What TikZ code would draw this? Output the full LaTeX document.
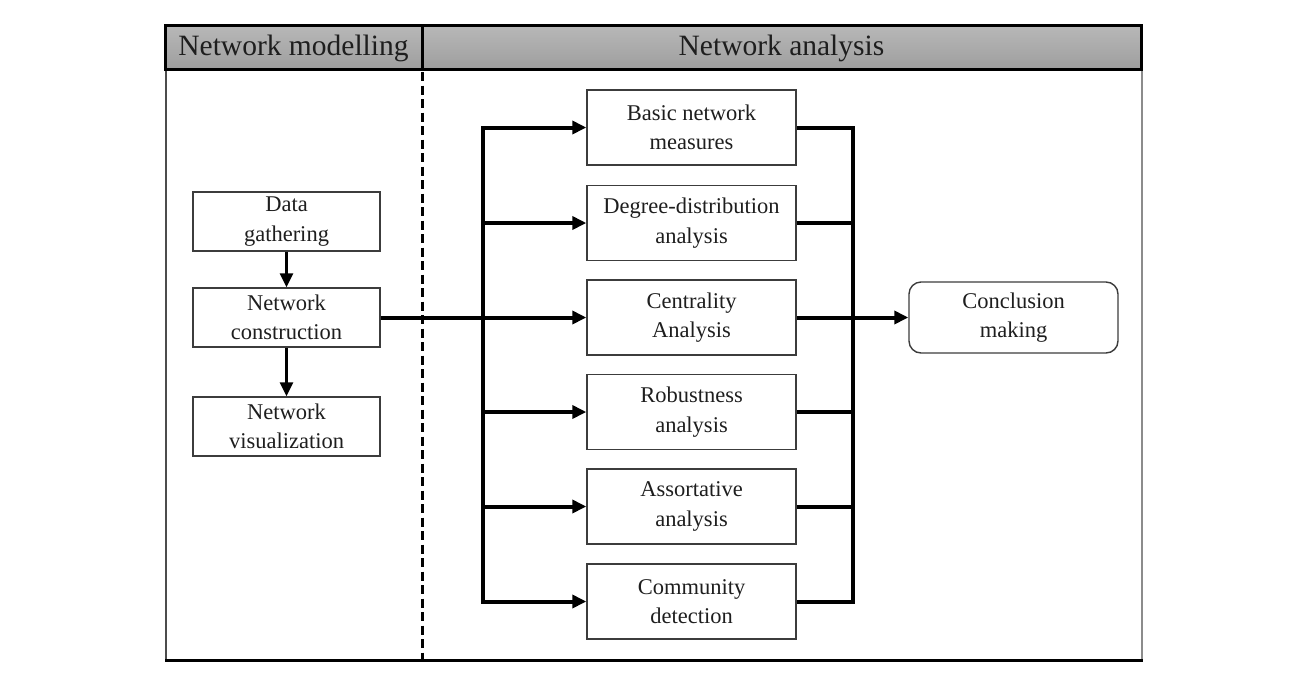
\documentclass[tikz,border=0pt]{standalone}
\usepackage{fontspec}
\setmainfont{Liberation Serif}
\usetikzlibrary{arrows.meta}
\definecolor{hdtop}{RGB}{184,184,184}
\definecolor{hdbot}{RGB}{158,158,158}
\definecolor{boxline}{RGB}{60,60,60}
\definecolor{txt}{RGB}{30,30,30}
\tikzset{
  stepbox/.style={draw=boxline, line width=1.4pt, align=center, inner sep=0pt,
    text=txt, font=\fontsize{22.5}{29.5}\selectfont},
  leftbox/.style={stepbox, minimum width=187pt, minimum height=59pt},
  midbox/.style={stepbox, minimum width=209pt, minimum height=75pt},
  endbox/.style={stepbox, minimum width=209pt, minimum height=71pt, rounded corners=12pt},
  tip/.style={-{Triangle[length=14pt,width=13pt]}},
  thickline/.style={line width=4pt},
  vline/.style={line width=3pt},
  hdtext/.style={font=\fontsize{29.5}{32}\selectfont, text=txt, inner sep=0pt}
}
\begin{document}
\begin{tikzpicture}[x=1pt,y=-1pt]
\useasboundingbox (0,0) rectangle (1296,673);
% frame
\draw[line width=2pt, draw=black!70] (166,70) -- (166,662);
\draw[line width=1.5pt, draw=black!45] (1142,70) -- (1142,662);
\draw[line width=2.5pt, draw=black] (165,660.5) -- (1143,660.5);
% header
\shade[top color=hdtop, bottom color=hdbot] (165,25) rectangle (1141,69.5);
\draw[line width=3pt] (165,25) rectangle (1141,69.5);
\draw[line width=3pt] (422,25) -- (422,69.5);
\node[hdtext] (hm) at (293.5,48) {Network modelling};
\node[hdtext] (ha) at (781.5,48) {Network analysis};
% dashed divider
\draw[line width=3pt, dash pattern=on 9pt off 4.5pt] (422,72) -- (422,659);
% left boxes
\node[leftbox] (dg) at (286.5,221.5) {Data\\gathering};
\node[leftbox] (nc) at (286.5,317.5) {Network\\construction};
\node[leftbox] (nv) at (286.5,426.5) {Network\\visualization};
% middle boxes
\node[midbox] (b1) at (691.5,127.5) {Basic network\\measures};
\node[midbox] (b2) at (691.5,223) {Degree-distribution\\analysis};
\node[midbox] (b3) at (691.5,317.5) {Centrality\\Analysis};
\node[midbox] (b4) at (691.5,412) {Robustness\\analysis};
\node[midbox] (b5) at (691.5,506.5) {Assortative\\analysis};
\node[midbox] (b6) at (691.5,601.5) {Community\\detection};
% conclusion
\node[endbox] (cm) at (1013.5,317.5) {Conclusion\\making};
% buses
\coordinate (busL) at (483,0);
\coordinate (busR) at (852.5,0);
% left column arrows
\draw[vline, tip] (dg.south) -- (nc.north);
\draw[vline, tip] (nc.south) -- (nv.north);
% distribution
\draw[thickline, tip] (nc.east) -- (b3.west);
\draw[thickline, {Triangle[length=14pt,width=13pt]}-{Triangle[length=14pt,width=13pt]}]
  (b1.west) -- (busL |- b1.west) -- (busL |- b6.west) -- (b6.west);
\draw[thickline, tip] (busL |- b2.west) -- (b2.west);
\draw[thickline, tip] (busL |- b4.west) -- (b4.west);
\draw[thickline, tip] (busL |- b5.west) -- (b5.west);
% collection
\draw[thickline] (b1.east) -- (busR |- b1.east) -- (busR |- b6.east) -- (b6.east);
\draw[thickline] (b2.east) -- (busR |- b2.east);
\draw[thickline] (b4.east) -- (busR |- b4.east);
\draw[thickline] (b5.east) -- (busR |- b5.east);
\draw[thickline, tip] (b3.east) -- (cm.west);
\end{tikzpicture}
\end{document}
